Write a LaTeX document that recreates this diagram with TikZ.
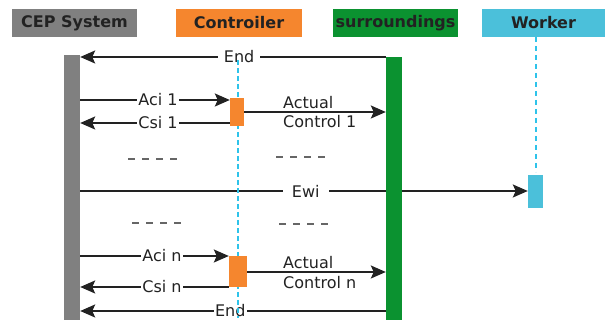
\documentclass[tikz,border=0pt]{standalone}
\usepackage{fontspec}
\setmainfont{DejaVu Sans}
\usetikzlibrary{arrows.meta}
\pgfdeclarelayer{msgs}
\pgfsetlayers{msgs,main}

\definecolor{cepgray}{HTML}{808080}
\definecolor{ctrlorange}{HTML}{F5862E}
\definecolor{envgreen}{HTML}{0B9230}
\definecolor{workcyan}{HTML}{4BC0DA}
\definecolor{lifecyan}{HTML}{2EC3EA}
\definecolor{ink}{HTML}{222222}

\tikzset{
  header/.style={rectangle, inner sep=0pt, minimum height=28pt,
    font=\bfseries\fontsize{16}{16}\selectfont, text=ink},
  bar/.style={rectangle, inner sep=0pt, minimum width=16pt},
  act/.style={rectangle, inner sep=0pt, fill=ctrlorange},
  msg/.style={draw=ink, line width=2pt, -{Stealth[length=15pt, width=13pt, inset=3pt]}},
  lbl/.style={fill=white, inner xsep=1.5pt, inner ysep=0.5pt, text=ink, font=\fontsize{16}{16}\selectfont},
  side/.style={inner sep=0pt, anchor=west, text=ink, font=\fontsize{16}{16}\selectfont},
  gap/.style={draw=cepgray!80!black, line width=1.8pt, dash pattern=on 7pt off 7pt},
  ctrlline/.style={draw=lifecyan, line width=1.3pt, dash pattern=on 5pt off 3pt},
  workline/.style={draw=lifecyan, line width=2.2pt, dash pattern=on 5pt off 4pt}
}

\begin{document}
\begin{tikzpicture}[x=1pt, y=-1pt]
\useasboundingbox (0,0) rectangle (606,320);

% participants
\node[header, fill=cepgray, minimum width=125pt] (cep) at (74.5,23) {CEP System};
\node[header, fill=ctrlorange, minimum width=126pt] (ctrl) at (239,23) {Controiler};
\node[header, fill=envgreen, minimum width=125pt] (env) at (395.5,23) {surroundings};
\node[header, fill=workcyan, minimum width=123pt] (work) at (543.5,23) {Worker};

% lifeline bars
\node[bar, fill=cepgray, minimum height=265pt] (cepbar) at (72,187.5) {};
\node[bar, fill=envgreen, minimum height=263pt] (envbar) at (394,188.5) {};

% controller and worker lifelines
\coordinate (ctop) at (238,60);
\coordinate (cbot) at (238,318);
\coordinate (wtop) at (536,37);
\coordinate (wbot) at (536,172);
\draw[ctrlline] (ctop) -- (cbot);
\draw[workline] (wtop) -- (wbot);

% activations
\node[act, minimum width=14pt, minimum height=28pt] (act1) at (237,112) {};
\node[act, minimum width=18pt, minimum height=31pt] (actn) at (238,271.5) {};
\node[rectangle, inner sep=0pt, fill=workcyan, minimum width=15pt, minimum height=33pt] (wbox) at (535.5,191.5) {};

% message levels
\coordinate (yEnd1) at (0,57);
\coordinate (yAci1) at (0,100);
\coordinate (yCtl1) at (0,112);
\coordinate (yCsi1) at (0,123);
\coordinate (yEwi) at (0,191);
\coordinate (yAcin) at (0,256);
\coordinate (yCtln) at (0,272);
\coordinate (yCsin) at (0,287);
\coordinate (yEnd2) at (0,311);

\begin{pgfonlayer}{msgs}
  % first round
  \draw[msg] (envbar.west |- yEnd1) -- node[lbl, pos=0.48, inner xsep=6pt] {End} (cepbar.east |- yEnd1);
  \draw[msg] (cepbar.east |- yAci1) -- node[lbl, pos=0.52] {Aci 1} (act1.west |- yAci1);
  \draw[msg] (act1.west |- yCsi1) -- node[lbl, pos=0.48] {Csi 1} (cepbar.east |- yCsi1);
  \draw[msg] (act1.east |- yCtl1) -- (envbar.west |- yCtl1);
  \node[side] (act1a) at (283,103) {Actual};
  \node[side] (act1b) at (283,122) {Control 1};

  % elided steps
  \coordinate (g1a) at (128,159); \coordinate (g1b) at (177,159);
  \coordinate (g2a) at (276,157); \coordinate (g2b) at (325,157);
  \coordinate (g3a) at (132,223); \coordinate (g3b) at (181,223);
  \coordinate (g4a) at (279,224); \coordinate (g4b) at (328,224);
  \draw[gap] (g1a) -- (g1b);
  \draw[gap] (g2a) -- (g2b);
  \draw[gap] (g3a) -- (g3b);
  \draw[gap] (g4a) -- (g4b);

  % event to worker
  \draw[msg] (cepbar.east |- yEwi) -- node[lbl, pos=0.504, inner xsep=9pt] {Ewi} (wbox.west |- yEwi);

  % last round
  \draw[msg] (cepbar.east |- yAcin) -- node[lbl, pos=0.55] {Aci n} (actn.west |- yAcin);
  \draw[msg] (actn.west |- yCsin) -- node[lbl, pos=0.45] {Csi n} (cepbar.east |- yCsin);
  \draw[msg] (actn.east |- yCtln) -- (envbar.west |- yCtln);
  \node[side] (actna) at (283,263) {Actual};
  \node[side] (actnb) at (283,283) {Control n};
  \draw[msg] (envbar.west |- yEnd2) -- node[lbl, pos=0.509] {End} (cepbar.east |- yEnd2);
\end{pgfonlayer}
\end{tikzpicture}
\end{document}
